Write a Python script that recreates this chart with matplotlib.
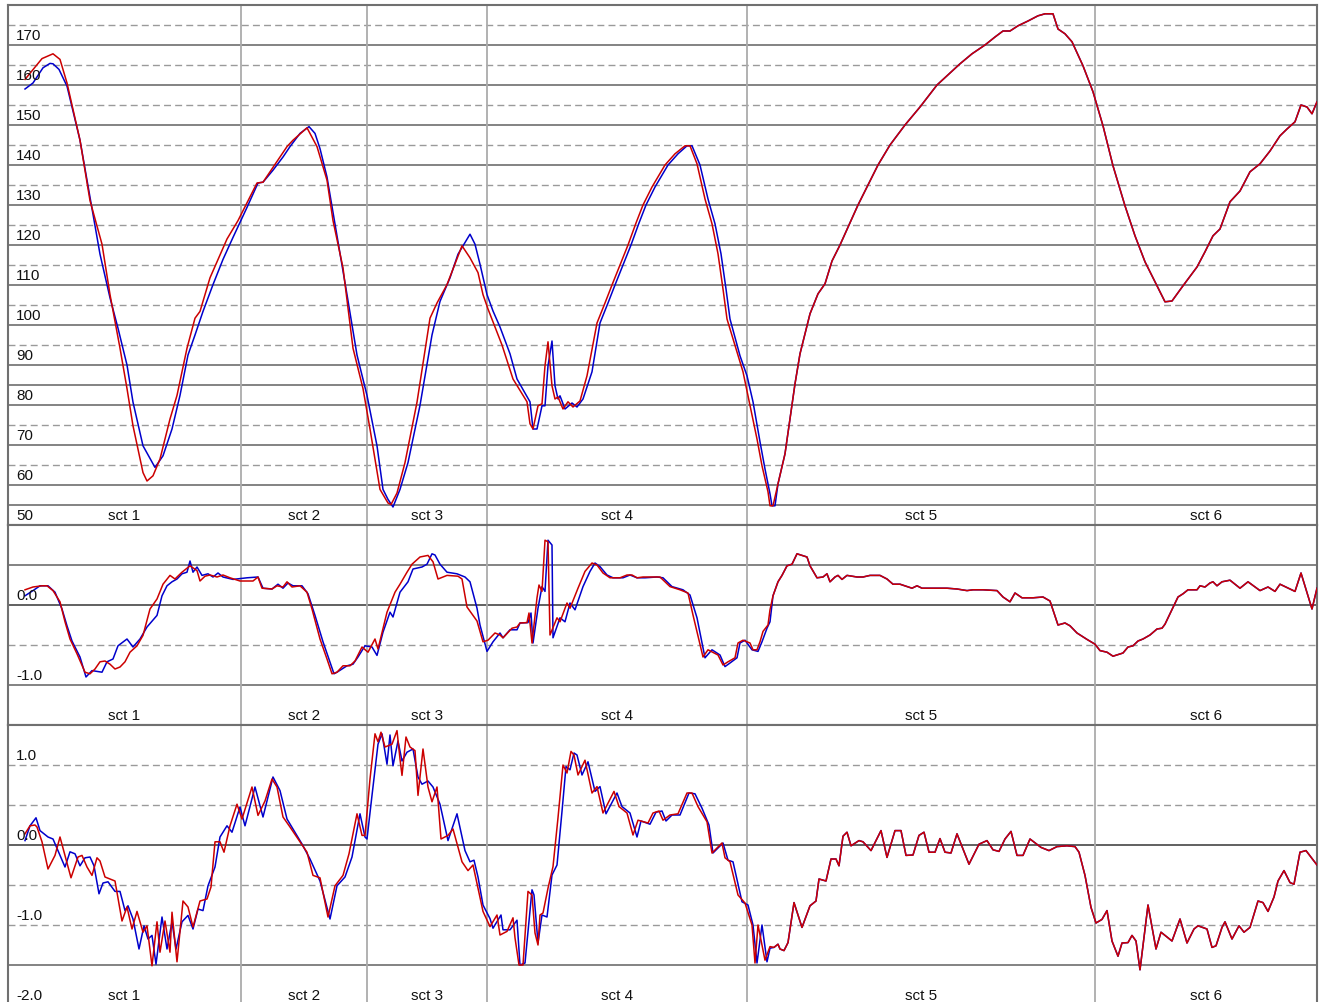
import matplotlib
matplotlib.use("Agg")
import matplotlib.pyplot as plt

plt.rcParams['font.family'] = ['Liberation Sans', 'DejaVu Sans']

# section boundaries (distance) and names
sct_edges = [8, 241, 367, 487, 747, 1095, 1317]
sct_names = ['sct 1', 'sct 2', 'sct 3', 'sct 4', 'sct 5', 'sct 6']

# ---- panel 1 : speed ----
p1_red = [(25, 161.4), (42, 166.6), (53, 167.8), (60, 166.4), (67, 160.5), (80, 146.2), (90, 131.1),
          (102, 120.2), (110, 107.6), (115, 100.9), (120, 94.2), (127, 84.1), (133, 74.8), (143, 63.1),
          (147, 61.0), (153, 62.3), (160, 66.5), (170, 76.5), (177, 82.4), (187, 94.2), (195, 101.7),
          (200, 103.4), (210, 111.8), (227, 121.5), (238, 126.1), (257, 135.5), (263, 135.7), (270, 138.3),
          (280, 142.0), (287, 144.6), (293, 146.2), (307, 149.3), (317, 144.6), (327, 136.2), (333, 126.1),
          (343, 114.3), (353, 94.2), (363, 84.1), (370, 74.0), (380, 58.9), (388, 55.5), (391, 55.1),
          (397, 58.0), (405, 65.6), (417, 80.7), (430, 101.7), (437, 105.5), (447, 110.1), (462, 119.8),
          (470, 116.8), (478, 113.1), (483, 107.6), (488, 104.0), (495, 99.5), (502, 95.0), (513, 86.5),
          (527, 80.8), (530, 75.3), (533, 74.0), (538, 79.8), (542, 80.3), (545, 89.8), (548, 95.8),
          (552, 84.8), (555, 81.5), (558, 82.0), (563, 79.0), (568, 80.8), (573, 79.5), (580, 81.0),
          (587, 87.3), (597, 100.5), (605, 105.5), (612, 110.0), (620, 115.0), (628, 120.0), (636, 125.5),
          (643, 130.0), (652, 134.5), (665, 140.0), (675, 142.8), (685, 144.8), (690, 144.8), (697, 140.3),
          (705, 131.5), (712, 125.3), (718, 117.8), (723, 109.0), (727, 101.5), (737, 93.3), (743, 88.3),
          (748, 82.3), (757, 71.5), (762, 64.8), (768, 58.3), (770, 54.8), (773, 54.8)]
p1_blue = [(25, 159.0), (33, 160.5), (43, 164.3), (50, 165.4), (53, 165.3), (59, 163.9), (67, 159.7),
           (80, 146.2), (90, 132.0), (100, 117.7), (110, 106.8), (118, 99.2), (127, 90.0), (133, 80.7),
           (143, 69.8), (155, 64.4), (163, 67.3), (172, 74.0), (180, 82.4), (188, 92.5), (195, 97.5),
           (203, 103.4), (213, 110.1), (223, 116.4), (233, 121.9), (247, 129.4), (258, 135.5), (263, 135.7),
           (273, 138.7), (283, 142.0), (290, 144.6), (300, 147.9), (309, 149.6), (315, 147.9), (320, 144.1),
           (327, 137.0), (335, 125.2), (347, 107.6), (357, 92.5), (367, 82.4), (377, 69.8), (383, 58.9),
           (388, 56.4), (393, 54.5), (400, 58.9), (408, 65.6), (420, 79.9), (432, 97.5), (440, 105.9),
           (450, 111.8), (458, 117.7), (470, 122.7), (475, 120.2), (480, 115.2), (487, 107.6), (493, 103.5),
           (500, 99.5), (510, 92.8), (517, 86.5), (530, 80.8), (533, 74.0), (537, 74.0), (542, 79.8),
           (545, 79.8), (548, 89.8), (552, 96.0), (555, 84.8), (558, 81.5), (560, 82.3), (565, 79.0),
           (572, 80.5), (577, 79.5), (583, 81.5), (592, 88.3), (600, 100.5), (608, 105.5), (615, 110.0),
           (623, 115.0), (631, 120.0), (639, 125.5), (646, 130.0), (655, 134.5), (668, 140.0), (678, 142.8),
           (687, 144.8), (692, 144.8), (700, 140.0), (708, 131.5), (715, 125.3), (721, 117.8), (726, 109.0),
           (730, 101.5), (740, 92.3), (747, 87.3), (753, 80.8), (760, 70.8), (765, 64.0), (770, 57.8),
           (772, 54.8), (775, 54.8)]
p1_both = [(778, 60.3), (785, 67.8), (790, 76.5), (795, 85.3), (800, 92.8), (805, 97.8), (810, 102.8),
           (818, 107.8), (825, 110.3), (832, 116.0), (840, 120.0), (849, 125.0), (858, 130.0), (868, 135.0),
           (878, 140.0), (890, 145.0), (905, 150.0), (920, 154.5), (937, 160.0), (950, 163.0), (960, 165.3),
           (972, 167.8), (985, 170.0), (995, 172.0), (1003, 173.5), (1010, 173.5), (1018, 174.8),
           (1028, 176.0), (1038, 177.3), (1045, 177.8), (1053, 177.8), (1058, 174.0), (1065, 172.8),
           (1072, 170.8), (1083, 164.8), (1093, 158.3), (1103, 149.8), (1113, 139.8), (1125, 129.8),
           (1135, 122.3), (1145, 115.8), (1157, 109.8), (1165, 105.8), (1172, 106.0), (1183, 109.8),
           (1197, 114.5), (1205, 118.3), (1213, 122.3), (1220, 124.0), (1230, 130.8), (1240, 133.5),
           (1250, 138.3), (1260, 140.3), (1270, 143.5), (1280, 147.3), (1287, 149.0), (1295, 150.8),
           (1301, 155.0), (1307, 154.5), (1312, 152.8), (1317, 155.8)]

# ---- panel 2 ----
p2_red = [(25, 0.19), (33, 0.225), (42, 0.24), (47, 0.24), (53, 0.18), (60, 0.04), (65, -0.21), (70, -0.425),
          (77, -0.61), (85, -0.84), (90, -0.86), (95, -0.8), (100, -0.71), (105, -0.70), (110, -0.74),
          (115, -0.8), (120, -0.775), (125, -0.71), (130, -0.59), (137, -0.51), (143, -0.38), (150, -0.05),
          (157, 0.075), (163, 0.26), (170, 0.37), (175, 0.325), (182, 0.41), (190, 0.49), (197, 0.43),
          (200, 0.30), (205, 0.36), (210, 0.375), (217, 0.35), (223, 0.375), (230, 0.34), (240, 0.30),
          (253, 0.30), (258, 0.35), (262, 0.21), (272, 0.2), (277, 0.24), (283, 0.225), (287, 0.29),
          (292, 0.225), (300, 0.24), (307, 0.16), (312, -0.05), (320, -0.425), (327, -0.675), (332, -0.86),
          (337, -0.84), (343, -0.76), (350, -0.76), (355, -0.70), (362, -0.525), (368, -0.59), (375, -0.425),
          (378, -0.55), (387, -0.09), (395, 0.16), (400, 0.26), (407, 0.41), (412, 0.51), (420, 0.6),
          (428, 0.62), (433, 0.54), (438, 0.325), (447, 0.37), (458, 0.36), (462, 0.325), (467, -0.025),
          (477, -0.2), (483, -0.46), (488, -0.44), (495, -0.35), (500, -0.375), (503, -0.41), (512, -0.29),
          (517, -0.275), (520, -0.225), (527, -0.22), (529, -0.1), (532, -0.475), (537, 0.09), (539, 0.25),
          (542, 0.17), (545, 0.81), (548, 0.79), (550, -0.375), (557, -0.16), (560, -0.21), (567, 0.025),
          (570, -0.04), (578, 0.21), (585, 0.42), (592, 0.525), (597, 0.5), (603, 0.4), (610, 0.34),
          (620, 0.34), (627, 0.375), (632, 0.375), (637, 0.34), (643, 0.35), (653, 0.35), (660, 0.35),
          (670, 0.23), (680, 0.19), (688, 0.15), (693, -0.125), (703, -0.65), (708, -0.56), (718, -0.625),
          (723, -0.75), (728, -0.71), (735, -0.66), (738, -0.475), (743, -0.44), (750, -0.475), (753, -0.56),
          (757, -0.56), (760, -0.46), (763, -0.33), (768, -0.25), (770, -0.06)]
p2_blue = [(25, 0.115), (33, 0.18), (40, 0.24), (48, 0.24), (55, 0.16), (62, -0.05), (67, -0.26), (72, -0.45),
           (80, -0.65), (86, -0.9), (92, -0.82), (102, -0.84), (107, -0.71), (113, -0.675), (118, -0.51),
           (127, -0.425), (133, -0.525), (140, -0.425), (147, -0.275), (157, -0.13), (162, 0.115), (167, 0.24),
           (172, 0.29), (177, 0.325), (182, 0.39), (187, 0.41), (190, 0.55), (193, 0.41), (197, 0.475),
           (202, 0.37), (208, 0.39), (213, 0.35), (218, 0.4), (223, 0.35), (233, 0.32), (247, 0.34),
           (258, 0.35), (263, 0.21), (272, 0.2), (278, 0.26), (283, 0.21), (288, 0.275), (293, 0.24),
           (302, 0.24), (308, 0.14), (315, -0.13), (323, -0.46), (334, -0.86), (337, -0.84), (347, -0.76),
           (353, -0.74), (358, -0.65), (365, -0.51), (372, -0.525), (377, -0.63), (383, -0.34), (390, -0.09),
           (393, -0.15), (400, 0.16), (408, 0.29), (413, 0.45), (422, 0.475), (427, 0.51), (432, 0.64),
           (435, 0.625), (440, 0.51), (447, 0.41), (457, 0.39), (465, 0.35), (470, 0.29), (477, -0.04),
           (480, -0.25), (487, -0.58), (493, -0.46), (500, -0.35), (503, -0.41), (510, -0.31), (517, -0.31),
           (520, -0.225), (528, -0.22), (531, -0.1), (533, -0.475), (538, -0.04), (542, 0.23), (545, 0.17),
           (548, 0.81), (552, 0.75), (553, -0.41), (560, -0.16), (565, -0.21), (570, 0.025), (575, -0.06),
           (583, 0.23), (590, 0.42), (595, 0.525), (600, 0.48), (607, 0.375), (613, 0.34), (623, 0.34),
           (630, 0.375), (637, 0.34), (645, 0.34), (657, 0.35), (663, 0.34), (672, 0.23), (683, 0.19),
           (690, 0.125), (697, -0.16), (705, -0.66), (712, -0.56), (720, -0.625), (725, -0.77), (730, -0.725),
           (737, -0.66), (740, -0.475), (745, -0.44), (752, -0.56), (758, -0.58), (762, -0.46), (767, -0.29),
           (770, -0.21)]
p2_both = [(773, 0.115), (778, 0.29), (782, 0.37), (787, 0.49), (792, 0.51), (797, 0.64), (802, 0.62),
           (807, 0.6), (810, 0.49), (817, 0.34), (823, 0.35), (827, 0.39), (830, 0.29), (835, 0.35),
           (838, 0.37), (842, 0.32), (847, 0.37), (857, 0.35), (863, 0.35), (870, 0.37), (880, 0.37),
           (887, 0.325), (893, 0.26), (900, 0.26), (912, 0.21), (917, 0.24), (922, 0.21), (933, 0.21),
           (947, 0.21), (957, 0.2), (967, 0.18), (973, 0.19), (983, 0.19), (997, 0.18), (1003, 0.1),
           (1010, 0.04), (1015, 0.15), (1022, 0.09), (1033, 0.09), (1043, 0.1), (1050, 0.05), (1058, -0.25),
           (1065, -0.225), (1070, -0.26), (1077, -0.35), (1087, -0.43), (1095, -0.49), (1100, -0.57),
           (1107, -0.59), (1113, -0.64), (1123, -0.6), (1128, -0.525), (1133, -0.51), (1138, -0.45),
           (1143, -0.425), (1150, -0.375), (1157, -0.3), (1162, -0.29), (1165, -0.24), (1170, -0.11),
           (1178, 0.1), (1183, 0.14), (1188, 0.19), (1197, 0.19), (1200, 0.24), (1205, 0.225), (1210, 0.275),
           (1213, 0.29), (1217, 0.24), (1222, 0.29), (1230, 0.31), (1240, 0.21), (1248, 0.29), (1260, 0.18),
           (1268, 0.225), (1275, 0.17), (1280, 0.26), (1295, 0.17), (1301, 0.4), (1312, -0.05), (1317, 0.21)]

# ---- panel 3 ----
p3_red = [(25, 0.14), (30, 0.24), (35, 0.25), (37, 0.225), (42, 0.04), (48, -0.3), (55, -0.13), (60, 0.1),
          (65, -0.13), (71, -0.41), (78, -0.15), (82, -0.13), (87, -0.275), (92, -0.38), (97, -0.16),
          (100, -0.2), (105, -0.4), (115, -0.45), (122, -0.95), (127, -0.775), (132, -1.05), (137, -0.83),
          (143, -1.09), (147, -1.01), (152, -1.51), (157, -0.96), (160, -1.34), (165, -0.95), (170, -1.34),
          (172, -0.84), (177, -1.46), (183, -0.7), (188, -0.775), (193, -1.025), (200, -0.7), (207, -0.675),
          (211, -0.525), (215, 0.04), (220, 0.04), (224, -0.09), (230, 0.24), (237, 0.51), (242, 0.325),
          (252, 0.725), (258, 0.37), (265, 0.55), (272, 0.825), (277, 0.725), (283, 0.35), (290, 0.225),
          (300, 0.04), (307, -0.09), (313, -0.38), (320, -0.41), (328, -0.9), (335, -0.51), (343, -0.38),
          (349, -0.11), (357, 0.39), (362, 0.12), (365, 0.12), (370, 0.825), (375, 1.39), (378, 1.29),
          (381, 1.41), (385, 1.225), (388, 1.24), (392, 1.26), (397, 1.43), (400, 1.075), (402, 0.87),
          (406, 1.35), (410, 1.225), (415, 1.18), (418, 0.62), (423, 1.2), (428, 0.725), (432, 0.54),
          (437, 0.725), (441, 0.075), (448, 0.12), (453, 0.2), (462, -0.21), (468, -0.32), (473, -0.25),
          (478, -0.54), (483, -0.83), (490, -1.02), (497, -0.875), (500, -1.125), (507, -1.08), (513, -0.91),
          (515, -1.16), (519, -1.5), (523, -1.5), (528, -0.58), (532, -0.625), (535, -1.1), (538, -1.25),
          (540, -0.875), (543, -0.85), (548, -0.54), (553, -0.27), (558, 0.34), (563, 1.0), (567, 0.9),
          (571, 1.17), (574, 1.125), (578, 0.875), (585, 1.06), (592, 0.65), (597, 0.73), (603, 0.4),
          (614, 0.67), (619, 0.48), (627, 0.4), (633, 0.125), (638, 0.31), (648, 0.275), (653, 0.4),
          (659, 0.425), (663, 0.31), (670, 0.375), (678, 0.39), (687, 0.65), (692, 0.65), (698, 0.48),
          (707, 0.29), (712, -0.1), (722, 0.025), (725, -0.16), (730, -0.21), (738, -0.625), (745, -0.725),
          (752, -1.0), (755, -1.475), (758, -1.0), (765, -1.44), (770, -1.27)]
p3_blue = [(25, 0.055), (30, 0.24), (36, 0.34), (40, 0.18), (48, 0.1), (53, 0.075), (60, -0.13), (65, -0.275),
           (70, -0.085), (75, -0.11), (80, -0.26), (85, -0.16), (90, -0.15), (94, -0.26), (99, -0.61),
           (103, -0.475), (108, -0.46), (115, -0.58), (120, -0.58), (125, -0.82), (128, -0.76), (133, -0.925),
           (139, -1.3), (144, -1.01), (148, -1.175), (152, -1.13), (156, -1.49), (162, -0.9), (167, -1.3),
           (172, -0.96), (176, -1.3), (182, -0.96), (188, -0.88), (193, -1.05), (198, -0.8), (203, -0.82),
           (208, -0.51), (215, -0.275), (220, 0.1), (227, 0.24), (232, 0.16), (240, 0.475), (245, 0.24),
           (255, 0.725), (263, 0.35), (273, 0.85), (280, 0.68), (287, 0.325), (293, 0.2), (302, 0.0125),
           (310, -0.175), (320, -0.45), (330, -0.925), (337, -0.51), (345, -0.4), (352, -0.15), (360, 0.39),
           (365, 0.1), (367, 0.075), (372, 0.62), (378, 1.26), (382, 1.39), (387, 1.01), (390, 1.375),
           (393, 0.99), (398, 1.3), (402, 1.05), (407, 1.16), (413, 1.2), (418, 0.85), (422, 0.76), (428, 0.8),
           (433, 0.725), (440, 0.51), (448, 0.055), (457, 0.39), (465, -0.07), (470, -0.21), (474, -0.19),
           (478, -0.4), (483, -0.75), (490, -0.92), (493, -1.04), (501, -0.875), (503, -1.06), (510, -1.06),
           (517, -0.94), (520, -1.5), (525, -1.475), (532, -0.56), (534, -0.625), (538, -1.225), (542, -0.875),
           (547, -0.9), (552, -0.375), (557, -0.25), (562, 0.42), (566, 0.98), (570, 0.94), (574, 1.15),
           (577, 1.125), (582, 0.875), (588, 1.04), (595, 0.67), (600, 0.73), (606, 0.39), (617, 0.65),
           (622, 0.48), (630, 0.4), (637, 0.1), (641, 0.3), (650, 0.26), (656, 0.41), (662, 0.425), (666, 0.3),
           (672, 0.375), (680, 0.375), (689, 0.65), (695, 0.64), (702, 0.46), (709, 0.25), (713, -0.1),
           (723, 0.025), (728, -0.19), (733, -0.21), (742, -0.71), (748, -0.75), (753, -1.0), (757, -1.475),
           (762, -1.0), (767, -1.46), (770, -1.29)]
p3_both = [(774, -1.28), (778, -1.24), (780, -1.3), (784, -1.32), (788, -1.22), (794, -0.72), (802, -1.03),
           (810, -0.76), (816, -0.7), (819, -0.425), (826, -0.45), (831, -0.175), (836, -0.175), (839, -0.26),
           (843, 0.11), (847, 0.16), (851, -0.01), (859, 0.055), (863, 0.04), (871, -0.07), (881, 0.18),
           (887, -0.155), (895, 0.18), (901, 0.18), (906, -0.13), (913, -0.125), (919, 0.12), (924, 0.16),
           (929, -0.09), (935, -0.09), (940, 0.08), (945, -0.09), (951, -0.1), (957, 0.14), (969, -0.24),
           (979, 0.01), (987, 0.055), (993, -0.06), (999, -0.08), (1005, 0.075), (1011, 0.17), (1017, -0.13),
           (1023, -0.13), (1030, 0.075), (1041, -0.03), (1049, -0.07), (1057, -0.02), (1067, -0.01),
           (1075, -0.02), (1079, -0.09), (1085, -0.38), (1091, -0.78), (1096, -0.975), (1102, -0.93),
           (1107, -0.82), (1112, -1.2), (1118, -1.39), (1122, -1.225), (1128, -1.22), (1132, -1.13),
           (1136, -1.2), (1140, -1.56), (1148, -0.75), (1156, -1.3), (1161, -1.09), (1172, -1.2),
           (1180, -0.925), (1187, -1.225), (1194, -1.05), (1198, -1.01), (1207, -1.05), (1212, -1.28),
           (1216, -1.26), (1222, -1.03), (1225, -0.96), (1232, -1.175), (1239, -1.01), (1244, -1.09),
           (1250, -1.03), (1258, -0.7), (1263, -0.72), (1268, -0.83), (1274, -0.65), (1278, -0.45),
           (1284, -0.32), (1290, -0.47), (1294, -0.49), (1300, -0.09), (1306, -0.07), (1317, -0.25)]

# axis ranges, labels and grid levels
panels = [
    dict(red=p1_red, blue=p1_blue, both=p1_both, ylim=(50, 180),
         labels=[50, 60, 70, 80, 90, 100, 110, 120, 130, 140, 150, 160, 170], fmt='{:.0f}',
         solid=[55, 60, 70, 80, 85, 90, 100, 110, 120, 130, 140, 150, 160, 170],
         dashed=[65, 75, 95, 105, 115, 125, 135, 145, 155, 165, 175], zero=None),
    dict(red=p2_red, blue=p2_blue, both=p2_both, ylim=(-1.5, 1.0),
         labels=[0.0, -1.0], fmt='{:.1f}', solid=[0.5, -1.0], dashed=[-0.5], zero=0.0),
    dict(red=p3_red, blue=p3_blue, both=p3_both, ylim=(-2.0, 1.5),
         labels=[1.0, 0.0, -1.0, -2.0], fmt='{:.1f}', solid=[-1.5], dashed=[1.0, 0.5, -0.5, -1.0], zero=0.0),
]

W, H = 1321, 1003
fig = plt.figure(figsize=(W / 100, H / 100), dpi=100)
# panel extents in pixels (top, bottom); the last one runs a little past the edge
extents = [(6, 526), (526, 726), (726, 1006)]

for (top, bot), p in zip(extents, panels):
    ax = fig.add_axes([8 / W, 1 - bot / H, 1309 / W, (bot - top) / H])
    ax.set_xlim(sct_edges[0], sct_edges[-1])
    ax.set_ylim(*p['ylim'])
    ax.set_xticks([])
    ax.set_yticks([])
    for s in ax.spines.values():
        s.set_color('#707070')
        s.set_linewidth(1.5)

    for v in p['solid']:
        ax.axhline(v, color='#7a7a7a', lw=1.3, zorder=1)
    for v in p['dashed']:
        ax.axhline(v, color='#9a9a9a', lw=1.0, ls=(0, (5, 3)), zorder=1)
    if p['zero'] is not None:
        ax.axhline(p['zero'], color='#606060', lw=1.4, zorder=1)
    for xe in sct_edges[1:-1]:
        ax.axvline(xe, color='#ababab', lw=1.3, zorder=1)

    bx, by = zip(*(p['blue'] + p['both']))
    rx, ry = zip(*(p['red'] + p['both']))
    ax.plot(bx, by, color='#0000cc', lw=1.1, zorder=3)
    ax.plot(rx, ry, color='#cc0000', lw=1.1, zorder=4)

    ytr = ax.get_yaxis_transform()
    for v in p['labels']:
        ax.annotate(p['fmt'].format(v), xy=(0, v), xycoords=ytr, xytext=(8, 3),
                    textcoords='offset pixels', ha='left', va='bottom', fontsize=11,
                    color='#111111', zorder=5, annotation_clip=False)
    xtr = ax.get_xaxis_transform()
    for i, name in enumerate(sct_names):
        xc = (sct_edges[i] + sct_edges[i + 1]) / 2
        ax.annotate(name, xy=(xc, 0), xycoords=xtr, xytext=(0, 3),
                    textcoords='offset pixels', ha='center', va='bottom', fontsize=11,
                    color='#111111', zorder=5, annotation_clip=False)

fig.savefig('out.png', dpi=100)
